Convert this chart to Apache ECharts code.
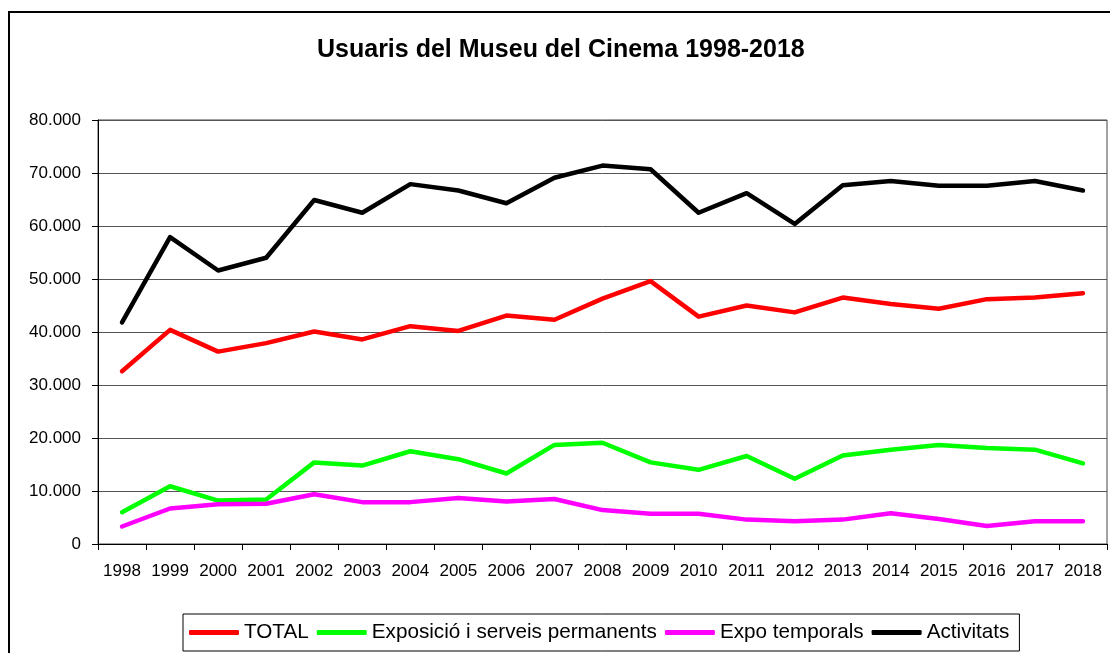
<!DOCTYPE html>
<html>
<head>
<meta charset="utf-8">
<script src="https://cdn.jsdelivr.net/npm/echarts@6/dist/echarts.min.js"></script>
<style>
  html, body { margin: 0; padding: 0; background: #fff; }
  #chart { width: 1110px; height: 653px; }
</style>
</head>
<body>
<div id="chart"></div>
<script>
var years = ['1998', '1999', '2000', '2001', '2002', '2003', '2004', '2005', '2006', '2007', '2008',
    '2009', '2010', '2011', '2012', '2013', '2014', '2015', '2016', '2017', '2018'];

var total = [32600, 40400, 36300, 37900, 40100, 38600, 41100, 40200, 43100, 42300, 46300,
    49600, 42900, 45000, 43700, 46500, 45300, 44400, 46200, 46500, 47300];
var exposicio = [6000, 10900, 8200, 8400, 15400, 14800, 17500, 16000, 13300, 18700, 19100,
    15400, 14000, 16600, 12300, 16700, 17800, 18700, 18100, 17800, 15200];
var expoTemporals = [3300, 6700, 7500, 7600, 9400, 7900, 7900, 8700, 8000, 8500, 6400,
    5700, 5700, 4600, 4300, 4600, 5800, 4700, 3400, 4300, 4300];
var activitats = [41800, 57900, 51600, 54000, 64900, 62500, 67900, 66700, 64300, 69100, 71400,
    70700, 62500, 66200, 60400, 67700, 68500, 67600, 67600, 68500, 66700];

var font = 'Arial, "Liberation Sans", sans-serif';

function lineSeries(name, data, color) {
    return {
        name: name,
        type: 'line',
        data: data,
        color: color,
        showSymbol: false,
        symbol: 'none',
        lineStyle: { color: color, width: 4.5, cap: 'round', join: 'round' },
        itemStyle: { color: color },
        animation: false
    };
}

var myChart = echarts.init(document.getElementById('chart'));

var option = {
    backgroundColor: '#fff',
    animation: false,
    graphic: [{
        type: 'rect',
        z: -1,
        shape: { x: 9, y: 12, width: 1200, height: 800 },
        style: { fill: 'none', stroke: '#000', lineWidth: 2 }
    }],
    title: {
        text: 'Usuaris del Museu del Cinema 1998-2018',
        left: 317,
        top: 38,
        padding: 0,
        textStyle: { fontFamily: font, fontSize: 25, fontWeight: 'bold', color: '#000' }
    },
    legend: {
        left: 183,
        top: 614,
        padding: [8, 10, 8, 6],
        itemGap: 8,
        itemWidth: 50,
        itemHeight: 5,
        icon: 'roundRect',
        borderColor: '#000',
        borderWidth: 1,
        borderRadius: 0,
        textStyle: { fontFamily: font, fontSize: 20.7, color: '#000' },
        data: ['TOTAL', 'Exposició i serveis permanents', 'Expo temporals', 'Activitats']
    },
    grid: {
        left: 98,
        right: 3,
        top: 120,
        bottom: 109,
        show: true,
        borderColor: '#444',
        borderWidth: 1
    },
    xAxis: {
        type: 'category',
        data: years,
        boundaryGap: true,
        axisLine: { lineStyle: { color: '#000', width: 1 } },
        axisTick: { show: true, interval: 0, length: 6, lineStyle: { color: '#000' } },
        axisLabel: { interval: 0, margin: 19, fontFamily: font, fontSize: 17, color: '#000' },
        splitLine: { show: false }
    },
    yAxis: {
        type: 'value',
        min: 0,
        max: 80000,
        interval: 10000,
        axisLine: { show: true, lineStyle: { color: '#000', width: 1 } },
        axisTick: { show: true, length: 6, lineStyle: { color: '#000' } },
        axisLabel: {
            margin: 17,
            fontFamily: font,
            fontSize: 17,
            color: '#000',
            formatter: function (v) {
                return v === 0 ? '0' : String(v).replace(/\B(?=(\d{3})+(?!\d))/g, '.');
            }
        },
        splitLine: { show: true, lineStyle: { color: '#555', width: 1 } }
    },
    series: [
        lineSeries('TOTAL', total, '#ff0000'),
        lineSeries('Exposició i serveis permanents', exposicio, '#00ff00'),
        lineSeries('Expo temporals', expoTemporals, '#ff00ff'),
        lineSeries('Activitats', activitats, '#000000')
    ]
};

myChart.setOption(option);
</script>
</body>
</html>
